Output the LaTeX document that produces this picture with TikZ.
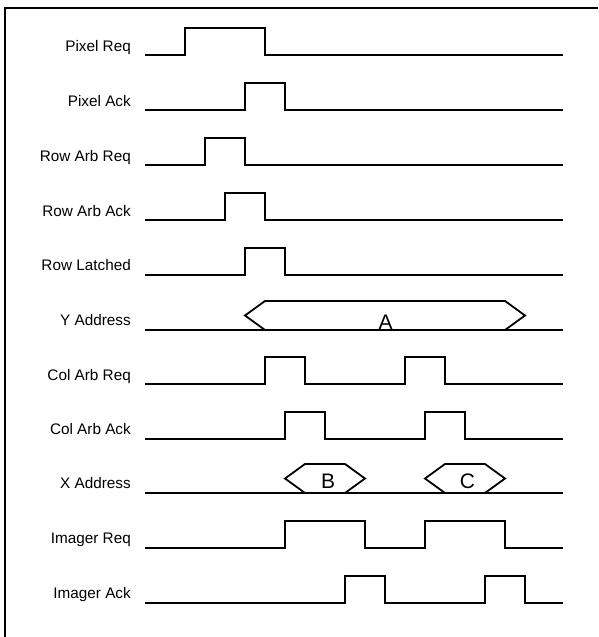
\documentclass[tikz,border=0pt]{standalone}
\usepackage{fontspec}
\setmainfont{Liberation Sans}
\newcommand{\sigwave}[2]{%
  \draw[sig] (145,#1) \foreach \a/\b in {#2} { -- (\a,#1) -- (\a,{#1-27}) -- (\b,{#1-27}) -- (\b,#1) } -- (563,#1);%
}
\begin{document}
\begin{tikzpicture}[x=1pt,y=-1pt,
  sig/.style={line width=1.8pt, line join=miter},
  frame/.style={line width=1.3pt},
  lbl/.style={font=\fontsize{15.3}{18}\selectfont, anchor=base east, inner sep=0pt},
  val/.style={font=\fontsize{21}{24}\selectfont, anchor=base, inner sep=0pt}]
\useasboundingbox (0,0) rectangle (598,637);
\draw[frame] (5,637) -- (5,8) -- (598,8);
% labels
\node[lbl] (l1) at (131,51) {Pixel Req};
\node[lbl] (l2) at (131,106) {Pixel Ack};
\node[lbl] (l3) at (131,161) {Row Arb Req};
\node[lbl] (l4) at (131,216) {Row Arb Ack};
\node[lbl] (l5) at (131,270) {Row Latched};
\node[lbl] (l6) at (131,325) {Y Address};
\node[lbl] (l7) at (131,380) {Col Arb Req};
\node[lbl] (l8) at (131,434) {Col Arb Ack};
\node[lbl] (l9) at (131,488) {X Address};
\node[lbl] (l10) at (131,543) {Imager Req};
\node[lbl] (l11) at (131,598) {Imager Ack};
% waveforms
\sigwave{55}{185/265}
\sigwave{110}{245/285}
\sigwave{165}{205/245}
\sigwave{220}{225/265}
\sigwave{275}{245/285}
\draw[sig] (145,330) -- (563,330);
\draw[sig] (265,330) -- (245,315.5) -- (265,301) -- (505,301) -- (525,315.5) -- (505,330);
\node[val] (A) at (385.5,329) {A};
\sigwave{384}{265/305,405/445}
\sigwave{439}{285/325,425/465}
\draw[sig] (145,493) -- (563,493);
\draw[sig] (305,493) -- (285,478.5) -- (305,464) -- (345,464) -- (365,478.5) -- (345,493);
\draw[sig] (445,493) -- (425,478.5) -- (445,464) -- (485,464) -- (505,478.5) -- (485,493);
\node[val] (B) at (328,488) {B};
\node[val] (C) at (467.5,488) {C};
\sigwave{548}{285/365,425/505}
\sigwave{603}{345/385,485/525}
\end{tikzpicture}
\end{document}
